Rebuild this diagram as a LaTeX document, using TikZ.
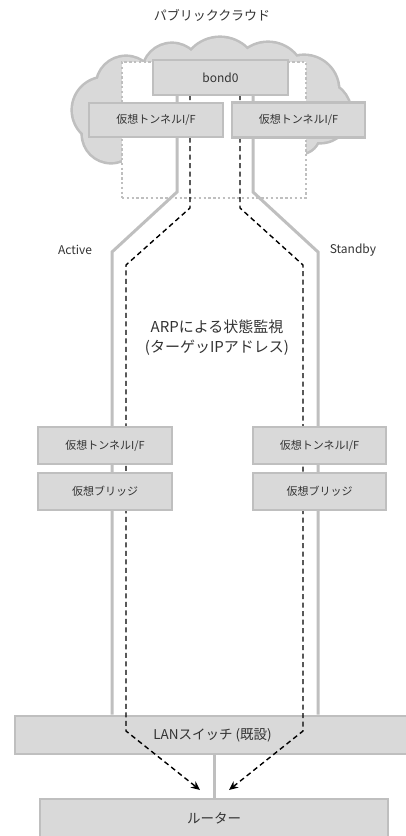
\documentclass[tikz,border=0pt]{standalone}
\usepackage{fontspec}
\setmainfont{Noto Sans CJK JP}
\usetikzlibrary{arrows.meta}
\definecolor{boxfill}{HTML}{D9D9D9}
\definecolor{boxline}{HTML}{BFBFBF}
\definecolor{txt}{HTML}{333333}
\begin{document}
\begin{tikzpicture}[x=1pt,y=-1pt,
  box/.style={draw=boxline,fill=boxfill,line width=2.6pt,inner sep=0pt,text=txt,font=\fontsize{11}{13}\selectfont},
  bigbox/.style={box,font=\fontsize{13.5}{16}\selectfont},
  gline/.style={draw=boxline,line width=3pt},
  dline/.style={draw=black,line width=1.4pt,dash pattern=on 5pt off 3.5pt},
  lbl/.style={text=txt,inner sep=0pt,font=\fontsize{12}{14}\selectfont}]
\useasboundingbox (0,0) rectangle (406,836);
% cloud: union of puffs (outline pass, then fill pass)
\def\puffs{220/76/38, 172/73/29, 268/79/36, 304/90/34, 320/112/30, 126/86/29, 105/110/32, 111/134/28, 300/134/19, 215/110/45, 160/110/40, 265/110/40}
\foreach \x/\y/\r in \puffs { \draw[boxline,line width=5.2pt] (\x,\y) circle[radius=\r]; }
\draw[boxline,line width=5.2pt] (112,150) -- (124,162) -- (132,150);
\foreach \x/\y/\r in \puffs { \fill[boxfill] (\x,\y) circle[radius=\r]; }
\fill[boxfill] (112,150) -- (124,162) -- (132,150) -- cycle;
% dotted VM area
\node[draw=boxline,fill=white,line width=2.4pt,dash pattern=on 2.4pt off 2.4pt,
  minimum width=184pt,minimum height=136pt,inner sep=0pt] (vm) at (214,130) {};
% coordinates
\coordinate (gL1) at (177,192); \coordinate (gL2) at (112,252);
\coordinate (gR1) at (253,192); \coordinate (gR2) at (318,252);
\coordinate (dL1) at (190,208); \coordinate (dL2) at (126,265); \coordinate (dL3) at (126,731);
\coordinate (dR1) at (240,208); \coordinate (dR2) at (303,265); \coordinate (dR3) at (303,731);
\coordinate (tipL) at (200,790); \coordinate (tipR) at (229,790);
% LAN and router
\node[bigbox,minimum width=395pt,minimum height=38pt] (lan) at (212.5,735) {LANスイッチ (既設)};
\node[bigbox,minimum width=348pt,minimum height=38pt] (router) at (214,818) {ルーター};
% gray lines
\draw[gline] (gL1 |- 0,95) -- (gL1) -- (gL2) -- (gL2 |- lan.north);
\draw[gline] (gR1 |- 0,95) -- (gR1) -- (gR2) -- (gR2 |- lan.north);
\draw[gline] (lan.south -| 214,0) -- (router.north -| 214,0);
% dashed monitoring lines
\draw[dline,-{Stealth[length=9pt,width=8pt]}] (dL1 |- 0,95) -- (dL1) -- (dL2) -- (dL3) -- (tipL);
\draw[dline,-{Stealth[length=9pt,width=8pt]}] (dR1 |- 0,95) -- (dR1) -- (dR2) -- (dR3) -- (tipR);
% boxes
\node[box,font=\fontsize{12}{14}\selectfont,minimum width=135pt,minimum height=35pt] (bond) at (220.5,77.5) {bond0};
\node[box,minimum width=134pt,minimum height=34pt] (tunL) at (156,120) {仮想トンネルI/F};
\node[box,minimum width=133pt,minimum height=35pt] (tunR) at (298.5,120) {仮想トンネルI/F};
\node[box,minimum width=134pt,minimum height=37pt] (ltun) at (105,445.5) {仮想トンネルI/F};
\node[box,minimum width=134pt,minimum height=37pt] (lbr) at (105,491.5) {仮想ブリッジ};
\node[box,minimum width=133pt,minimum height=37pt] (rtun) at (319.5,445.5) {仮想トンネルI/F};
\node[box,minimum width=133pt,minimum height=37pt] (rbr) at (319.5,491.5) {仮想ブリッジ};
% labels
\node[lbl,font=\fontsize{13}{15}\selectfont] (title) at (212,15) {パブリッククラウド};
\node[lbl] (act) at (75,250) {Active};
\node[lbl] (stb) at (353,250) {Standby};
\node[lbl,font=\fontsize{15}{20}\selectfont,align=center] (arp) at (217,338) {ARPによる状態監視\\(ターゲッIPアドレス)};
\end{tikzpicture}
\end{document}
